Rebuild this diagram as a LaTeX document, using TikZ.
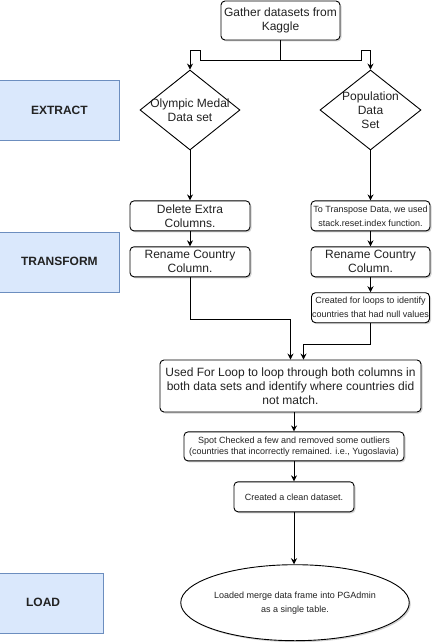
\documentclass[tikz,border=0pt]{standalone}
\usepackage{fontspec}
\setmainfont{Liberation Sans}
\usetikzlibrary{positioning,shapes.geometric,shadows,arrows.meta}
\definecolor{stagefill}{HTML}{DAE8FC}
\definecolor{stageline}{HTML}{6C8EBF}
\definecolor{ink}{HTML}{222222}
\newcommand{\bigtxt}{\fontsize{12}{14}\selectfont}
\newcommand{\smalltxt}{\fontsize{9}{11}\selectfont}

\tikzset{
  stage/.style={draw=stageline, fill=stagefill, minimum width=120pt, minimum height=60pt,
    inner sep=0pt, font=\bigtxt\bfseries, text=ink},
  proc/.style={draw, rounded corners=4pt, fill=white, line width=0.9pt, inner sep=0pt,
    align=center, text=ink, font=\bigtxt,
    drop shadow={shadow xshift=1.5pt, shadow yshift=-1.5pt, opacity=0.35}},
  decision/.style={draw, diamond, fill=white, line width=0.9pt, inner sep=0pt},
  arr/.style={-{Stealth[length=6pt,width=6pt]}, line width=0.9pt},
}

\begin{document}
\begin{tikzpicture}[x=1pt, y=-1pt]
\useasboundingbox (0,0) rectangle (431,642);

% Define nodes

\node[proc, minimum width=119pt, minimum height=39pt] (gather) at (280.5,20.5)
  {Gather datasets from\\Kaggle};

\node[decision, minimum width=100pt, minimum height=80pt,
  label={[align=center, font=\bigtxt, text=ink]center:Olympic Medal\\Data set}] (olympic) at (190,110) {};
\node[decision, minimum width=101pt, minimum height=80pt,
  label={[align=center, font=\bigtxt, text=ink]center:Population\\Data\\Set}] (population) at (370.5,110) {};

\node[stage, left=20pt of olympic] (extract) {EXTRACT};

\node[proc, minimum width=120pt, minimum height=30pt, below=50pt of olympic] (delcols)
  {Delete Extra\\Columns.};
\node[proc, minimum width=120pt, minimum height=30pt, below=15pt of delcols] (renameL)
  {Rename Country\\Column.};
\node[stage, left=10pt of renameL] (transform) {TRANSFORM};

\node[proc, minimum width=119pt, minimum height=30pt, below=50pt of population,
  font=\fontsize{9}{14}\selectfont] (transpose)
  {To Transpose Data, we used\\stack.reset.index function.};
\node[proc, minimum width=119pt, minimum height=30pt, below=15pt of transpose] (renameR)
  {Rename Country\\Column.};
\node[proc, minimum width=118pt, minimum height=30pt, below=15pt of renameR,
  font=\fontsize{9}{14}\selectfont] (nullloops)
  {Created for loops to identify\\countries that had null values};

\node[proc, minimum width=261pt, minimum height=52pt] (forloop) at (290.5,386)
  {Used For Loop to loop through both columns in\\both data sets and identify where countries did\\not match.};
\node[proc, minimum width=220pt, minimum height=29pt, below=19pt of forloop, xshift=3.5pt,
  font=\smalltxt] (spot)
  {Spot Checked a few and removed some outliers\\(countries that incorrectly remained. i.e., Yugoslavia)};
\node[proc, minimum width=120pt, minimum height=30pt, below=20pt of spot, font=\smalltxt] (clean)
  {Created a clean dataset.};
\node[draw, ellipse, line width=0.9pt, fill=white, minimum width=196pt, minimum height=76pt,
  inner sep=0pt, align=center, text=ink, font=\fontsize{9}{14}\selectfont,
  drop shadow={shadow xshift=1.5pt, shadow yshift=-1.5pt, opacity=0.35},
  below=52pt of clean, xshift=1pt] (loadmerge)
  {Loaded merge data frame into PGAdmin\\as a single table.};
\node[stage, left=77pt of loadmerge] (load) {LOAD};

% Connect the nodes
\draw[arr] (gather.south) -- ++(0,20) -| ++(-80,-10) -| (olympic.north);
\draw[arr] (gather.south) -- ++(0,20) -| ++(81,-10) -| (population.north);
\draw[arr] (olympic.south) -- (delcols.north);
\draw[arr] (delcols.south) -- (renameL.north);
\draw[arr] (population.south) -- (transpose.north);
\draw[arr] (transpose.south) -- (renameR.north);
\draw[arr] (renameR.south) -- (nullloops.north);
\draw[arr] (renameL.south) -- ++(0,42) -| (forloop.north);
\draw[arr] (nullloops.south) -- ++(0,21) -| ([xshift=13pt]forloop.north);
\draw[arr] (forloop.south -| spot.north) -- (spot.north);
\draw[arr] (spot.south) -- (clean.north);
\draw[arr] (clean.south) -- (clean.south |- loadmerge.north);

\end{tikzpicture}
\end{document}
